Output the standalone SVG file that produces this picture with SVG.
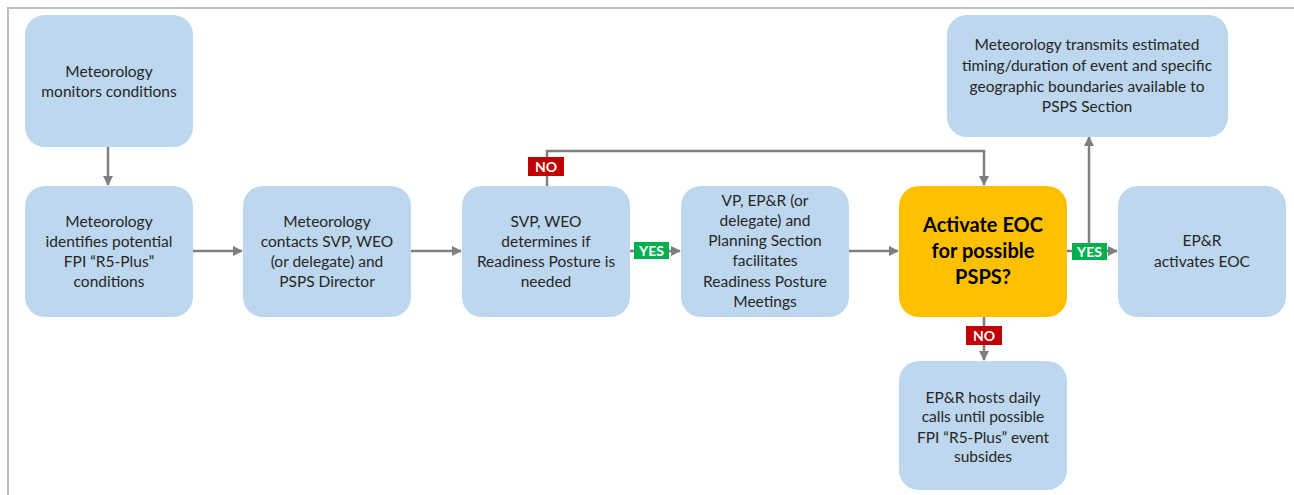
<svg xmlns="http://www.w3.org/2000/svg" width="1294" height="495" viewBox="0 0 1294 495">
  <defs>
    <marker id="arrow" viewBox="0 0 10 10" refX="9" refY="5" markerWidth="4" markerHeight="4" orient="auto" markerUnits="strokeWidth">
      <path d="M0,0 L10,5 L0,10 Z" fill="#7f7f7f"/>
    </marker>
    <style>
      .box { fill: #bdd7ee; }
      .decision { fill: #ffc000; }
      .txt { font-family: Lato, "Liberation Sans", sans-serif; font-size: 15.5px; fill: #262626; text-anchor: middle; }
      .big { font-family: Lato, "Liberation Sans", sans-serif; font-size: 20px; font-weight: bold; fill: #000; text-anchor: middle; }
      .link { fill: none; stroke: #7f7f7f; stroke-width: 2.5; }
      .tag { font-family: Lato, "Liberation Sans", sans-serif; font-size: 14px; font-weight: bold; fill: #fff; text-anchor: middle; }
      .no { fill: #c00000; }
      .yes { fill: #00b050; }
    </style>
  </defs>

  <!-- frame -->
  <path d="M8,495 V8 H1294" fill="none" stroke="#c0c0c0" stroke-width="2"/>

  <!-- connectors -->
  <g id="connectors">
    <path class="link" d="M108,147 V185" marker-end="url(#arrow)"/>
    <path class="link" d="M193,251 H242" marker-end="url(#arrow)"/>
    <path class="link" d="M410,251 H461" marker-end="url(#arrow)"/>
    <path class="link" d="M630,251 H680" marker-end="url(#arrow)"/>
    <path class="link" d="M848,251 H898" marker-end="url(#arrow)"/>
    <path class="link" d="M547,186 V151 H984 V185" marker-end="url(#arrow)"/>
    <path class="link" d="M1067,251 H1117" marker-end="url(#arrow)"/>
    <path class="link" d="M1089,251 V137" marker-end="url(#arrow)"/>
    <path class="link" d="M984,316 V360" marker-end="url(#arrow)"/>
    <g id="label-no-top">
      <rect class="no" x="528" y="157" width="36" height="19"/>
      <text class="tag" x="546" y="172">NO</text>
    </g>
    <g id="label-yes-left">
      <rect class="yes" x="634" y="242" width="35" height="17"/>
      <text class="tag" x="651.5" y="256">YES</text>
    </g>
    <g id="label-yes-right">
      <rect class="yes" x="1072" y="243" width="35" height="17"/>
      <text class="tag" x="1089.5" y="257">YES</text>
    </g>
    <g id="label-no-bottom">
      <rect class="no" x="966" y="326" width="36" height="19"/>
      <text class="tag" x="984" y="341">NO</text>
    </g>
  </g>

  <g id="monitor">
    <rect class="box" x="25" y="15" width="168" height="132" rx="20"/>
    <text class="txt" x="109" y="77">Meteorology</text>
    <text class="txt" x="109" y="97">monitors conditions</text>
  </g>

  <g id="identify">
    <rect class="box" x="25" y="186" width="168" height="131" rx="20"/>
    <text class="txt" x="109" y="227">Meteorology</text>
    <text class="txt" x="109" y="247">identifies potential</text>
    <text class="txt" x="109" y="267">FPI “R5-Plus”</text>
    <text class="txt" x="109" y="287">conditions</text>
  </g>

  <g id="contact">
    <rect class="box" x="243" y="186" width="168" height="131" rx="20"/>
    <text class="txt" x="327" y="227">Meteorology</text>
    <text class="txt" x="327" y="247">contacts SVP, WEO</text>
    <text class="txt" x="327" y="267">(or delegate) and</text>
    <text class="txt" x="327" y="287">PSPS Director</text>
  </g>

  <g id="readiness">
    <rect class="box" x="462" y="186" width="168" height="131" rx="20"/>
    <text class="txt" x="546" y="227">SVP, WEO</text>
    <text class="txt" x="546" y="247">determines if</text>
    <text class="txt" x="546" y="267">Readiness Posture is</text>
    <text class="txt" x="546" y="287">needed</text>
  </g>

  <g id="meetings">
    <rect class="box" x="681" y="186" width="168" height="131" rx="20"/>
    <text class="txt" x="765" y="206">VP, EP&amp;R (or</text>
    <text class="txt" x="765" y="226">delegate) and</text>
    <text class="txt" x="765" y="246">Planning Section</text>
    <text class="txt" x="765" y="266">facilitates</text>
    <text class="txt" x="765" y="287">Readiness Posture</text>
    <text class="txt" x="765" y="307">Meetings</text>
  </g>

  <g id="decision">
    <rect class="decision" x="899" y="186" width="168" height="131" rx="20"/>
    <text class="big" x="983" y="232">Activate EOC</text>
    <text class="big" x="983" y="258">for possible</text>
    <text class="big" x="983" y="284">PSPS?</text>
  </g>

  <g id="transmit">
    <rect class="box" x="947" y="15" width="281" height="122" rx="20"/>
    <text class="txt" x="1087" y="50">Meteorology transmits estimated</text>
    <text class="txt" x="1087" y="71">timing/duration of event and specific</text>
    <text class="txt" x="1087" y="92">geographic boundaries available to</text>
    <text class="txt" x="1087" y="112">PSPS Section</text>
  </g>

  <g id="activate">
    <rect class="box" x="1118" y="186" width="168" height="131" rx="20"/>
    <text class="txt" x="1202" y="246">EP&amp;R</text>
    <text class="txt" x="1202" y="267">activates EOC</text>
  </g>

  <g id="daily-calls">
    <rect class="box" x="899" y="361" width="168" height="129" rx="20"/>
    <text class="txt" x="983" y="403">EP&amp;R hosts daily</text>
    <text class="txt" x="983" y="422">calls until possible</text>
    <text class="txt" x="983" y="443">FPI “R5-Plus” event</text>
    <text class="txt" x="983" y="462">subsides</text>
  </g>
</svg>
